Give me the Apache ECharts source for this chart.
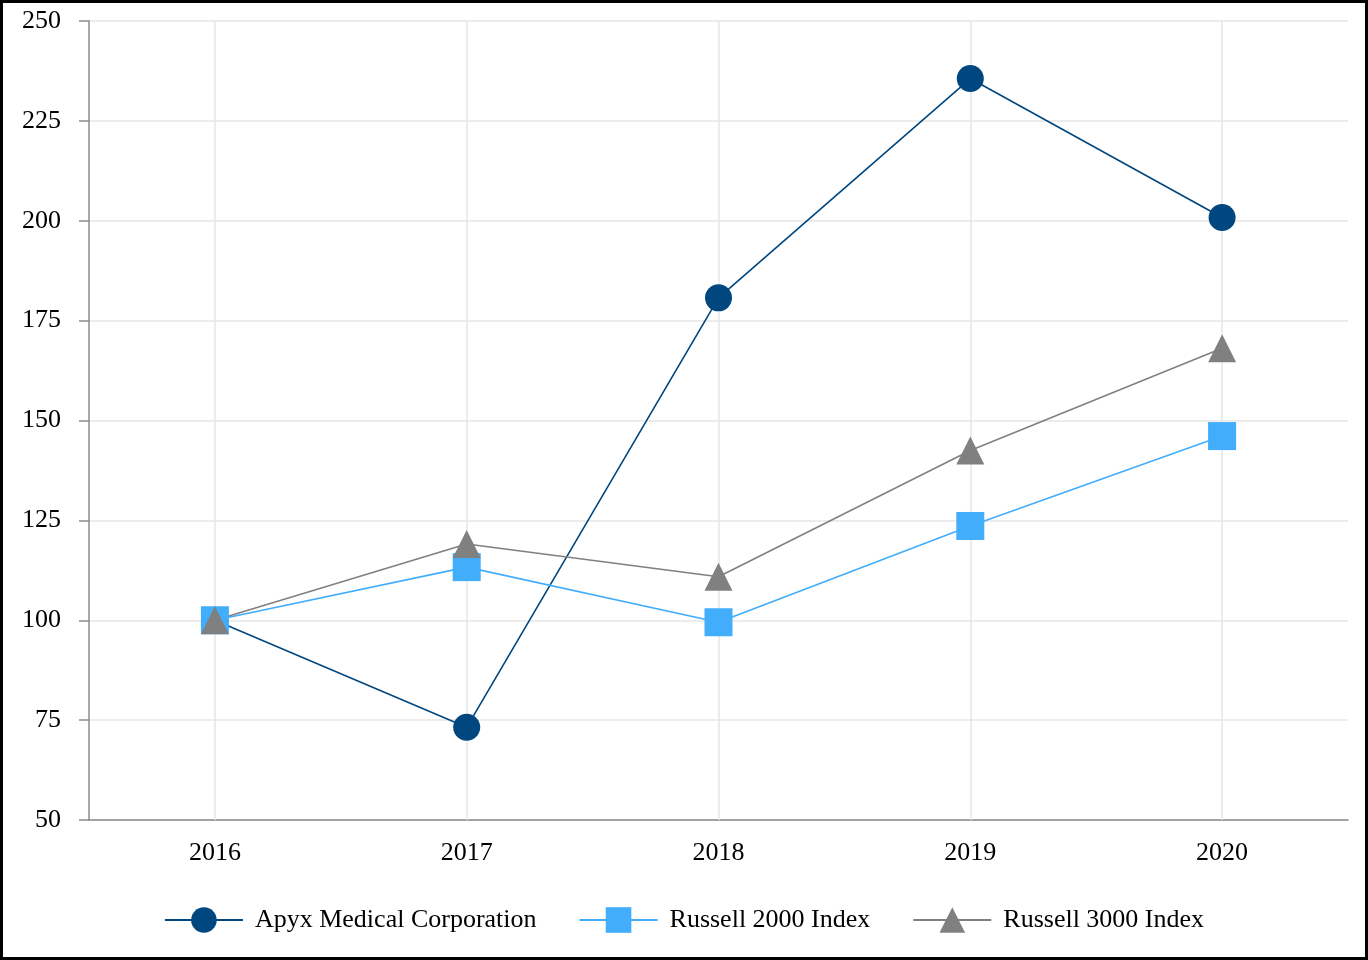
<!DOCTYPE html>
<html><head><meta charset="utf-8">
<script src="https://cdn.jsdelivr.net/npm/echarts@6/dist/echarts.min.js"></script>
<style>
html,body{margin:0;padding:0;background:#fff;}
#frame{position:absolute;left:0;top:0;width:1368px;height:960px;box-sizing:border-box;border:3px solid #000;}
#chart{position:absolute;left:0;top:0;width:1368px;height:960px;}
</style></head>
<body>
<div id="chart"></div>
<div id="frame"></div>
<script>
const years = ['2016','2017','2018','2019','2020'];
const apyx = [100, 73.2, 180.7, 235.6, 200.8];
const russell2000 = [100, 113.3, 99.5, 123.6, 146.1];
const russell3000 = [100, 119.1, 110.9, 142.5, 168.1];
const seriesNames = ['Apyx Medical Corporation','Russell 2000 Index','Russell 3000 Index'];
const colors = ['#00477f','#41adfb','#808080'];

const font = 'Liberation Serif, Times New Roman, serif';
const chart = echarts.init(document.getElementById('chart'));
function mk(i, data, symbol, size){
  return {
    name: seriesNames[i], type:'line', data:data, symbol:symbol, symbolSize:size,
    itemStyle:{color:colors[i]}, lineStyle:{color:colors[i], width:1.6},
    emphasis:{disabled:true}
  };
}
chart.setOption({
  animation:false,
  textStyle:{fontFamily:font},
  grid:{left:89, right:20, top:21, bottom:140},
  legend:{
    bottom:22, left:'center', itemWidth:78, itemHeight:32, itemGap:42,
    textStyle:{fontFamily:font, fontSize:26, color:'#000', padding:[0,0,0,7]},
    data:seriesNames
  },
  xAxis:{
    type:'category', data:years, boundaryGap:true,
    axisLine:{lineStyle:{color:'#8c8c8c', width:1.5}},
    axisTick:{alignWithLabel:true, length:10, lineStyle:{color:'#8c8c8c', width:1.5}},
    axisLabel:{color:'#000', fontSize:26, fontFamily:font, margin:20},
    splitLine:{show:false}
  },
  yAxis:{
    type:'value', min:50, max:250, interval:25,
    axisLine:{show:true, lineStyle:{color:'#8c8c8c', width:1.5}},
    axisTick:{show:true, length:10, lineStyle:{color:'#8c8c8c', width:1.5}},
    axisLabel:{color:'#000', fontSize:26, fontFamily:font, margin:28},
    splitLine:{show:true, lineStyle:{color:'#e6e6e6', width:1.5}}
  },
  series:[
    {
      type:'line', data:[], silent:true, z:1, legendHoverLink:false,
      markLine:{
        silent:true, z:1, symbol:['none','none'], label:{show:false},
        lineStyle:{color:'#e6e6e6', width:1.5, type:'solid'},
        emphasis:{disabled:true},
        data: years.map(y => ({xAxis:y}))
      }
    },
    mk(0, apyx, 'circle', 27),
    mk(1, russell2000, 'rect', 28),
    mk(2, russell3000, 'triangle', 28)
  ]
});
</script>
</body></html>
